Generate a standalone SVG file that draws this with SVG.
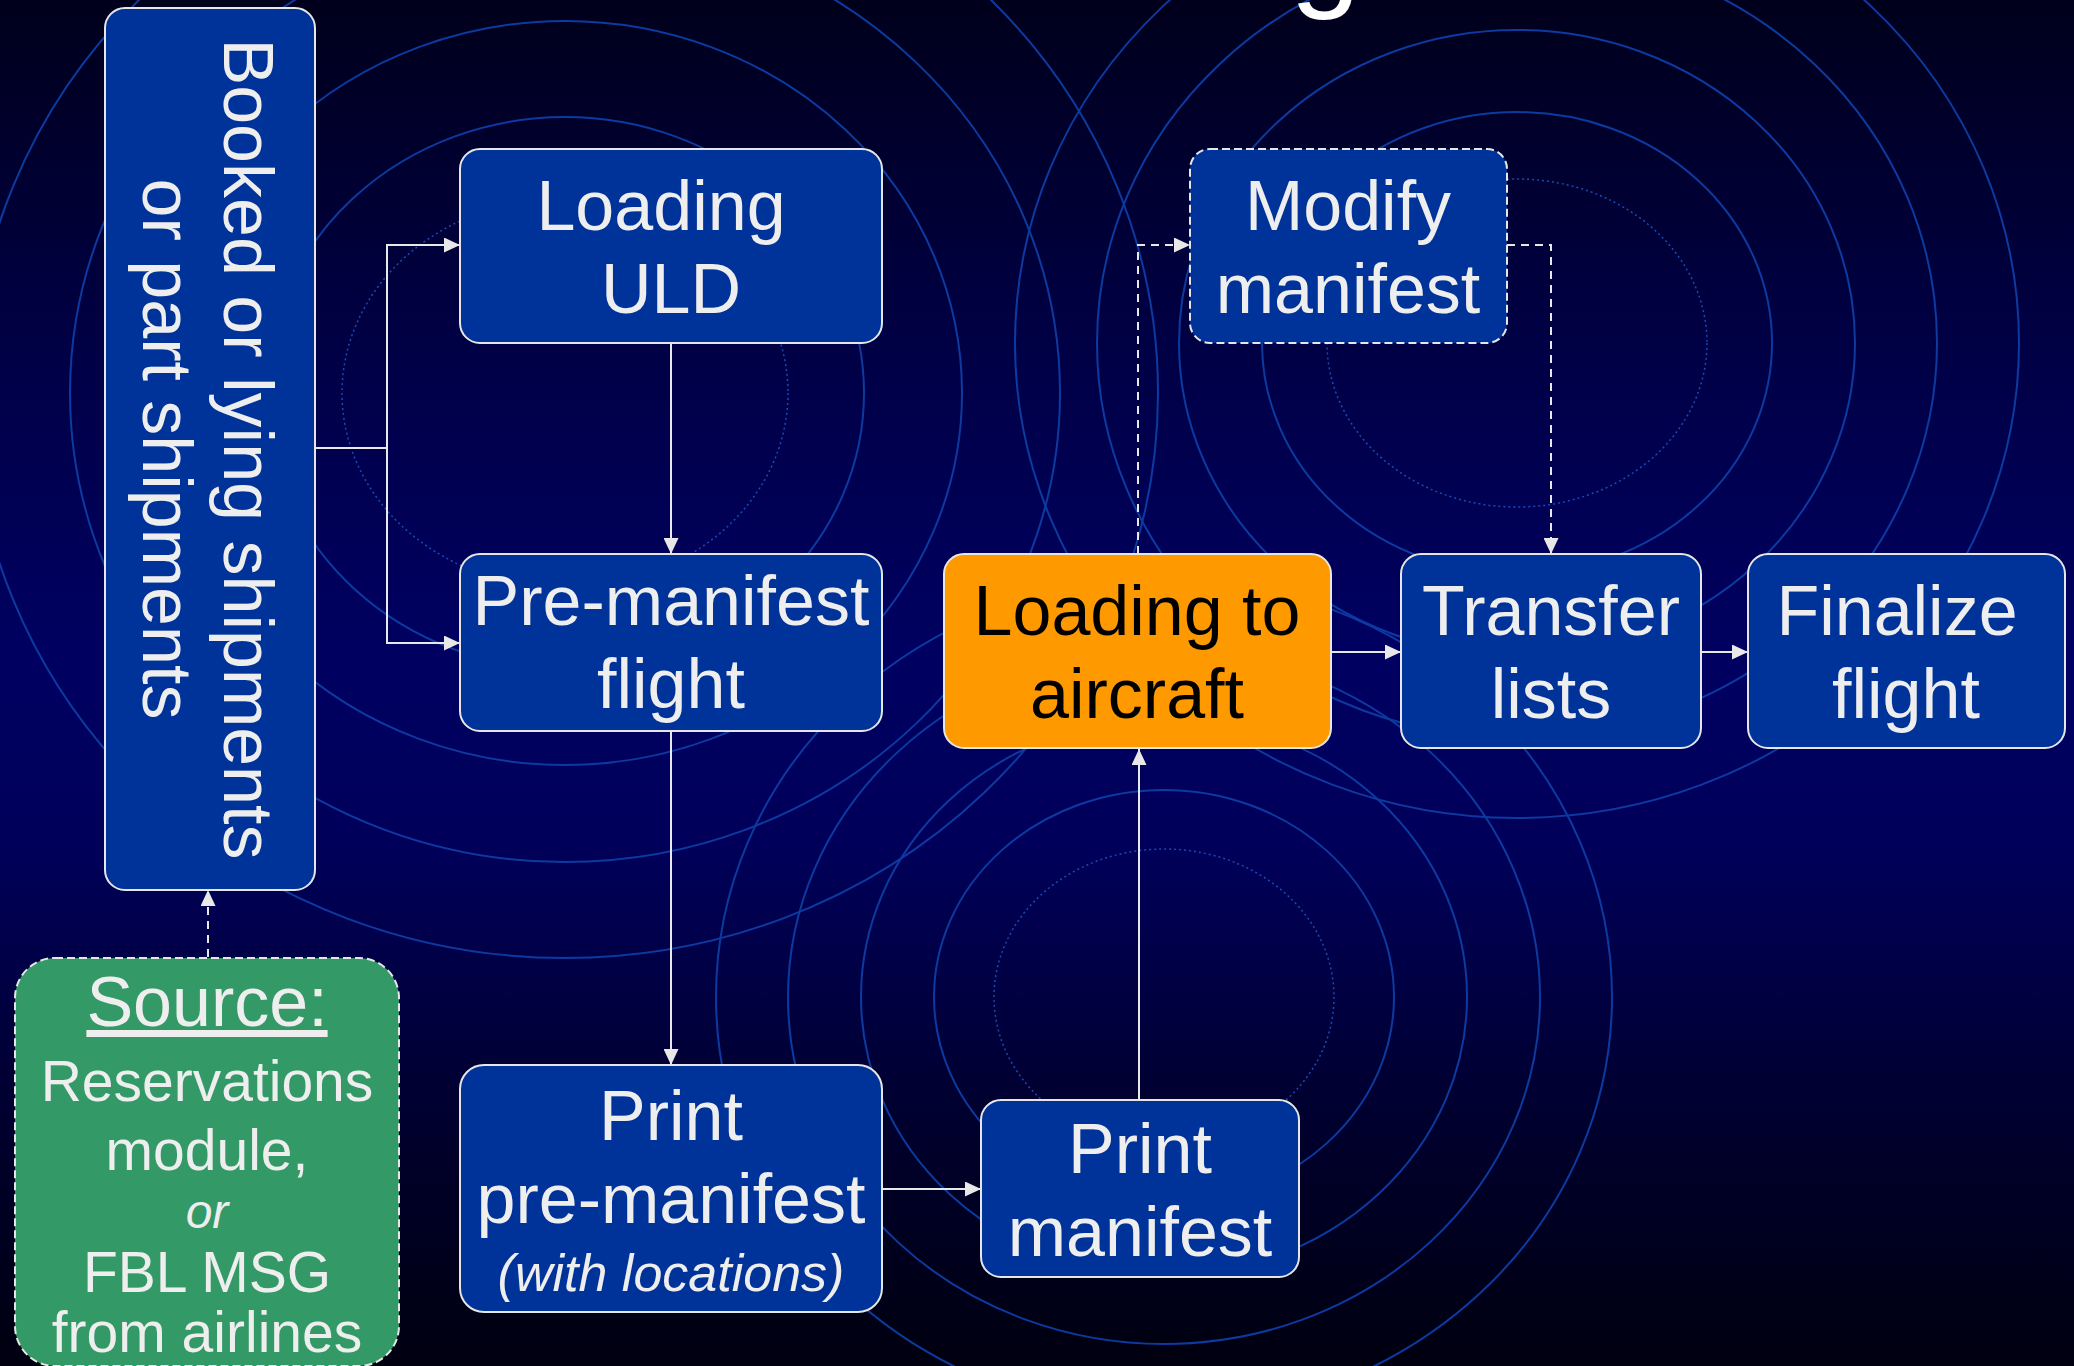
<svg xmlns="http://www.w3.org/2000/svg" width="2074" height="1366" viewBox="0 0 2074 1366">
<defs>
<linearGradient id="bg" x1="0" y1="0" x2="0" y2="1">
<stop offset="0" stop-color="#00001c"/>
<stop offset="0.25" stop-color="#000045"/>
<stop offset="0.48" stop-color="#000062"/>
<stop offset="0.62" stop-color="#00005a"/>
<stop offset="0.8" stop-color="#000032"/>
<stop offset="1" stop-color="#000010"/>
</linearGradient>
<marker id="ah" viewBox="0 0 16 16" refX="16" refY="8" markerWidth="16" markerHeight="15" markerUnits="userSpaceOnUse" orient="auto" preserveAspectRatio="none">
<path d="M0,0 L16,8 L0,16 z" fill="#e8e8e8"/>
</marker>
<style>
.ring{fill:none;stroke:#0c3aa0;stroke-width:2}
.dot{fill:none;stroke:#1a4ab4;stroke-width:1.5;stroke-dasharray:2 3}
.node{fill:#003399;stroke:#e6e6e6;stroke-width:2}
.hl{fill:#ff9900;stroke:#e6e6e6;stroke-width:2}
.src{fill:#339966;stroke:#e6e6e6;stroke-width:2;stroke-dasharray:8 4}
.dn{stroke-dasharray:8 4}
.t{font-family:'Liberation Sans',Arial,Helvetica,sans-serif;font-size:70px;fill:#eeeeee;text-anchor:middle}
.tb{fill:#000000}
.s{font-size:57px}
.i{font-style:italic}
.loc{font-size:52px}
.or{font-size:48px}
.conn{fill:none;stroke:#e8e8e8;stroke-width:2}
.cd{stroke-dasharray:8 6}
</style>
</defs>
<rect x="0" y="0" width="2074" height="1366" fill="url(#bg)"/>
<g id="background-rings">
<ellipse class="dot" cx="565" cy="393" rx="223" ry="195"/>
<ellipse class="ring" cx="565" cy="393" rx="299" ry="276"/>
<ellipse class="ring" cx="565" cy="393" rx="397" ry="372"/>
<ellipse class="ring" cx="565" cy="393" rx="495" ry="469"/>
<ellipse class="ring" cx="565" cy="393" rx="593" ry="565"/>
<ellipse class="dot" cx="1517" cy="343" rx="190" ry="164"/>
<ellipse class="ring" cx="1517" cy="343" rx="255" ry="231"/>
<ellipse class="ring" cx="1517" cy="343" rx="338" ry="313"/>
<ellipse class="ring" cx="1517" cy="343" rx="420" ry="395"/>
<ellipse class="ring" cx="1517" cy="343" rx="502" ry="475"/>
<ellipse class="dot" cx="1164" cy="997" rx="170" ry="148"/>
<ellipse class="ring" cx="1164" cy="997" rx="230" ry="207"/>
<ellipse class="ring" cx="1164" cy="997" rx="303" ry="279"/>
<ellipse class="ring" cx="1164" cy="997" rx="376" ry="347"/>
<ellipse class="ring" cx="1164" cy="997" rx="448" ry="418"/>
</g>
<text x="1290" y="-6" font-family="'Liberation Sans',Arial,sans-serif" font-size="127" fill="#ffffff">g</text>
<g id="connectors">
<path class="conn" d="M315,448 H387 V245 H460" marker-end="url(#ah)"/>
<path class="conn" d="M387,448 V643 H460" marker-end="url(#ah)"/>
<path class="conn" d="M671,343 V554" marker-end="url(#ah)"/>
<path class="conn" d="M671,731 V1065" marker-end="url(#ah)"/>
<path class="conn" d="M882,1189 H981" marker-end="url(#ah)"/>
<path class="conn" d="M1139,1100 V749" marker-end="url(#ah)"/>
<path class="conn" d="M1331,652 H1401" marker-end="url(#ah)"/>
<path class="conn" d="M1701,652 H1748" marker-end="url(#ah)"/>
<path class="conn cd" d="M1138,554 V245 H1190" marker-end="url(#ah)"/>
<path class="conn cd" d="M1507,245 H1551 V554" marker-end="url(#ah)"/>
<path class="conn cd" d="M208,957 V890" marker-end="url(#ah)"/>
</g>
<g id="node-booked">
<rect class="node" x="105" y="8" width="210" height="882" rx="20"/>
<text class="t" transform="translate(224,449) rotate(90)">Booked or lying shipments</text>
<text class="t" transform="translate(143,449) rotate(90)">or part shipments</text>
</g>
<g id="node-loading-uld">
<rect class="node" x="460" y="149" width="422" height="194" rx="20"/>
<text class="t" x="661" y="230">Loading</text>
<text class="t" x="671" y="313">ULD</text>
</g>
<g id="node-pre-manifest-flight">
<rect class="node" x="460" y="554" width="422" height="177" rx="20"/>
<text class="t" x="671" y="625">Pre-manifest</text>
<text class="t" x="671" y="708">flight</text>
</g>
<g id="node-modify-manifest">
<rect class="node dn" x="1190" y="149" width="317" height="194" rx="20"/>
<text class="t" x="1348" y="230">Modify</text>
<text class="t" x="1348" y="313">manifest</text>
</g>
<g id="node-loading-aircraft">
<rect class="hl" x="944" y="554" width="387" height="194" rx="20"/>
<text class="t tb" x="1137" y="635">Loading to</text>
<text class="t tb" x="1137" y="718">aircraft</text>
</g>
<g id="node-transfer-lists">
<rect class="node" x="1401" y="554" width="300" height="194" rx="20"/>
<text class="t" x="1551" y="635">Transfer</text>
<text class="t" x="1551" y="718">lists</text>
</g>
<g id="node-finalize-flight">
<rect class="node" x="1748" y="554" width="317" height="194" rx="20"/>
<text class="t" x="1897" y="635">Finalize</text>
<text class="t" x="1906" y="718">flight</text>
</g>
<g id="node-print-pre-manifest">
<rect class="node" x="460" y="1065" width="422" height="247" rx="24"/>
<text class="t" x="671" y="1140">Print</text>
<text class="t" x="671" y="1223">pre-manifest</text>
<text class="t i loc" x="671" y="1291">(with locations)</text>
</g>
<g id="node-print-manifest">
<rect class="node" x="981" y="1100" width="318" height="177" rx="20"/>
<text class="t" x="1140" y="1173">Print</text>
<text class="t" x="1140" y="1256">manifest</text>
</g>
<g id="node-source">
<rect class="src" x="15" y="958" width="384" height="408" rx="40"/>
<text class="t" x="207" y="1026" text-decoration="underline">Source:</text>
<text class="t s" x="207" y="1101">Reservations</text>
<text class="t s" x="207" y="1170">module,</text>
<text class="t i or" x="207" y="1228">or</text>
<text class="t s" x="207" y="1292">FBL MSG</text>
<text class="t s" x="207" y="1352">from airlines</text>
</g>
</svg>
